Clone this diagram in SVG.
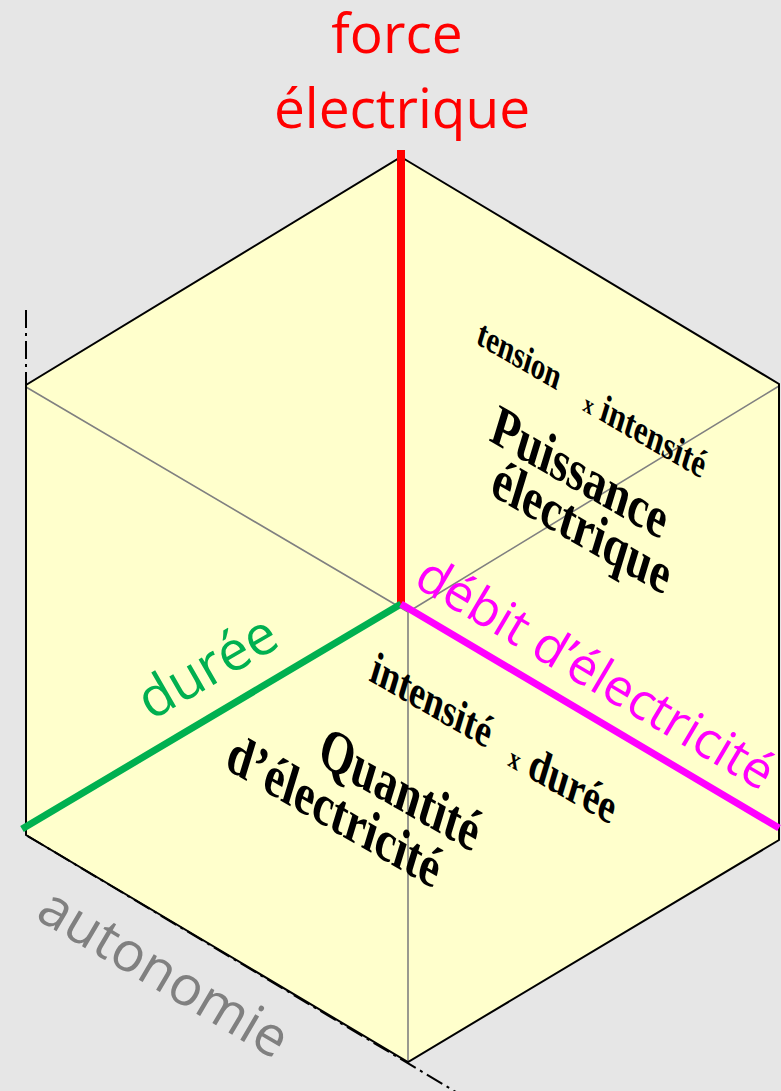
<svg xmlns="http://www.w3.org/2000/svg" width="781" height="1091" viewBox="0 0 781 1091">
<style>
.edge{fill:none;stroke:#000;stroke-width:2;stroke-linejoin:miter}
.hid{fill:none;stroke:#808080;stroke-width:1.6}
.dd{fill:none;stroke:#000;stroke-width:2;stroke-dasharray:18 5 3 5}
.sans{font-family:"Open Sans","Noto Sans","DejaVu Sans",sans-serif}
.ser{font-family:"Liberation Serif","Times New Roman",serif;font-weight:bold;fill:#000}
</style>
<rect x="0" y="0" width="781" height="1091" fill="#e6e6e6"/>
<g id="cube">
<polygon points="401,157 779,384 779,840 408,1062 26,835 26,385" fill="#ffffcc" stroke="none"/>
<path class="hid" d="M26,387 L408,612 M779,386 L408,612 M408,612 L408,1062"/>
<path class="dd" d="M26,310 L26,835 L456,1092"/>
<polygon class="edge" points="401,157 779,384 779,840 408,1062 26,835 26,385"/>
</g>
<g id="connectors">
<line x1="401" y1="150" x2="401" y2="605" stroke="#ff0000" stroke-width="8"/>
<line x1="401" y1="604" x2="22" y2="829" stroke="#00b050" stroke-width="7"/>
<line x1="401" y1="604" x2="779" y2="828" stroke="#ff00ff" stroke-width="7"/>
</g>
<g id="axis-force">
<text class="sans" x="397" y="53" font-size="55" fill="#ff0000" text-anchor="middle">force</text>
<text class="sans" x="402" y="128" font-size="55" fill="#ff0000" text-anchor="middle">électrique</text>
</g>
<g id="axis-duree">
<text class="sans" font-size="55" fill="#00b050" transform="translate(151,721) rotate(-30)">durée</text>
</g>
<g id="axis-debit">
<text class="sans" font-size="51" fill="#ff00ff" transform="translate(412,585) rotate(30.6)">débit d’électricité</text>
</g>
<g id="axis-autonomie">
<text class="sans" font-size="55" fill="#808080" transform="translate(34,918) rotate(30.5)">autonomie</text>
</g>
<g id="face-puissance">
<text class="ser" font-size="31" transform="translate(475,343) rotate(30) skewX(13) scale(1,1.15)">tension</text>
<text class="ser" font-size="33" transform="translate(582,410) rotate(30) skewX(13) scale(1,1.15)"><tspan font-size="21">x</tspan> intensité</text>
<text class="ser" font-size="48" transform="translate(488,440) rotate(30) skewX(13) scale(1,1.15)">Puissance</text>
<text class="ser" font-size="48" transform="translate(489,494) rotate(30) skewX(13) scale(1,1.15)">électrique</text>
</g>
<g id="face-quantite">
<text class="ser" font-size="38" transform="translate(368,680) rotate(30) skewX(13) scale(1,1.15)">intensité</text>
<text class="ser" font-size="40" transform="translate(507,765) rotate(30) skewX(13) scale(1,1.15)"><tspan font-size="24">x</tspan> durée</text>
<text class="ser" font-size="48" transform="translate(316,762) rotate(30) skewX(13) scale(1,1.18)">Quantité</text>
<text class="ser" font-size="48" transform="translate(224,768) rotate(30) skewX(13) scale(1,1.15)">d’électricité</text>
</g>
</svg>
